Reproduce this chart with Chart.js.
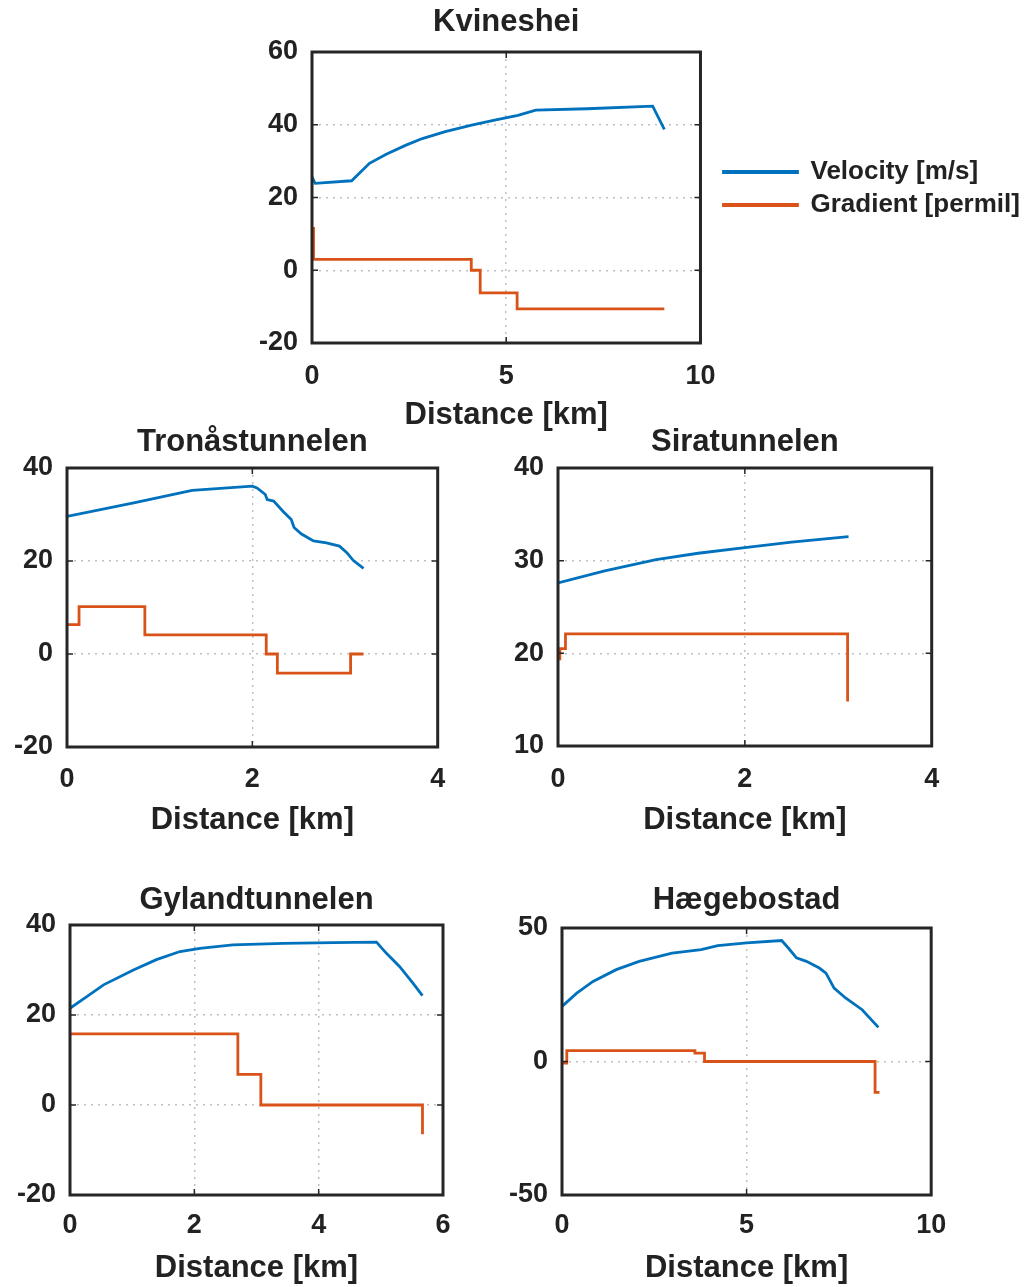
<!DOCTYPE html>
<html lang="en">
  <head>
    <meta charset="UTF-8" />
    <title>Velocity and gradient profiles</title>
    <script src="https://cdn.jsdelivr.net/npm/chart.js@4.4.0/dist/chart.umd.min.js"></script>
    <style>
      body {
        margin: 0;
        background: #fff;
      }
      #page {
        position: relative;
        width: 1031px;
        height: 1287px;
        overflow: hidden;
      }
      #page canvas {
        position: absolute;
      }
    </style>
  </head>
  <body>
    <div id="page"></div>
    <script>
      const seriesNames = ["Velocity [m/s]", "Gradient [permil]"];
      const xTitle = "Distance [km]";

      // [distance km, value]
      const kvinesheiVelocity = [
        [0, 25.7], [0.08, 23.9], [1.02, 24.6], [1.48, 29.4], [1.91, 31.9],
        [2.42, 34.4], [2.84, 36.2], [3.43, 38.1], [4.11, 39.9], [4.7, 41.3],
        [5.3, 42.6], [5.76, 44.0], [7.08, 44.4], [8.77, 45.1], [9.07, 38.7]
      ];
      const kvinesheiGradient = [
        [0, 11.5], [0.04, 3], [4.1, 0], [4.33, -6.2], [5.28, -10.6], [9.07, -10.6]
      ];
      const kvinesheiXTicks = [0, 5, 10];
      const kvinesheiYTicks = [-20, 0, 20, 40, 60];

      const tronasVelocity = [
        [0, 29.6], [0.72, 32.5], [1.35, 35.2], [2.0, 36.1], [2.05, 35.7],
        [2.14, 34.3], [2.16, 33.2], [2.23, 32.9], [2.33, 30.7], [2.42, 28.9],
        [2.45, 27.2], [2.53, 25.8], [2.66, 24.3], [2.8, 23.9], [2.94, 23.2],
        [3.02, 21.8], [3.09, 20.1], [3.2, 18.4]
      ];
      const tronasGradient = [
        [0, 6.3], [0.13, 10.2], [0.84, 4.1], [2.15, 0], [2.27, -4.1], [3.06, 0], [3.2, 0]
      ];
      const tronasXTicks = [0, 2, 4];
      const tronasYTicks = [-20, 0, 20, 40];

      const siraVelocity = [
        [0, 27.6], [0.5, 28.9], [1.05, 30.1], [1.5, 30.8], [2.0, 31.4], [2.5, 32.0], [3.11, 32.6]
      ];
      const siraGradient = [[0, 19.4], [0.02, 20.5], [0.08, 22.1], [3.1, 14.8]];
      const siraXTicks = [0, 2, 4];
      const siraYTicks = [10, 20, 30, 40];

      const gylandVelocity = [
        [0, 21.5], [0.27, 24.1], [0.54, 26.7], [1.02, 30.0], [1.39, 32.3],
        [1.77, 34.1], [2.09, 34.8], [2.62, 35.6], [3.43, 35.9], [4.23, 36.1],
        [4.93, 36.2], [5.09, 33.7], [5.3, 30.8], [5.51, 27.2], [5.67, 24.3]
      ];
      const gylandGradient = [[0, 15.8], [2.7, 6.8], [3.07, 0], [5.67, -6.5]];
      const gylandXTicks = [0, 2, 4, 6];
      const gylandYTicks = [-20, 0, 20, 40];

      const haegebostadVelocity = [
        [0, 20.6], [0.4, 25.6], [0.84, 30], [1.47, 34.4], [2.09, 37.5],
        [2.98, 40.6], [3.77, 41.9], [4.22, 43.4], [5.0, 44.4], [5.95, 45.3],
        [6.13, 42.5], [6.35, 38.8], [6.62, 37.5], [6.97, 35], [7.15, 33.1],
        [7.37, 27.5], [7.68, 23.8], [8.13, 19.4], [8.57, 12.8]
      ];
      const haegebostadGradient = [
        [0, -0.6], [0.13, 4.1], [3.6, 3.1], [3.86, 0], [8.48, -11.6], [8.6, -11.6]
      ];
      const haegebostadXTicks = [0, 5, 10];
      const haegebostadYTicks = [-50, 0, 50];

      const tunnels = [
        { title: "Kvineshei", velocity: kvinesheiVelocity, gradient: kvinesheiGradient,
          xTicks: kvinesheiXTicks, yTicks: kvinesheiYTicks, legend: true },
        { title: "Tronåstunnelen", velocity: tronasVelocity, gradient: tronasGradient,
          xTicks: tronasXTicks, yTicks: tronasYTicks },
        { title: "Siratunnelen", velocity: siraVelocity, gradient: siraGradient,
          xTicks: siraXTicks, yTicks: siraYTicks },
        { title: "Gylandtunnelen", velocity: gylandVelocity, gradient: gylandGradient,
          xTicks: gylandXTicks, yTicks: gylandYTicks },
        { title: "Hægebostad", velocity: haegebostadVelocity, gradient: haegebostadGradient,
          xTicks: haegebostadXTicks, yTicks: haegebostadYTicks }
      ];

      // where each plot box sits on the page
      const boxes = [
        { left: 312, right: 705, top: 52, bottom: 343, titleY: 22, tickY: 377, xTitleY: 415 },
        { left: 67, right: 438, top: 468, bottom: 747, titleY: 442, tickY: 780, xTitleY: 820 },
        { left: 558, right: 933, top: 468, bottom: 746, titleY: 442, tickY: 780, xTitleY: 820 },
        { left: 70, right: 443, top: 925, bottom: 1195, titleY: 900, tickY: 1226, xTitleY: 1268 },
        { left: 562, right: 937, top: 928, bottom: 1195, titleY: 900, tickY: 1226, xTitleY: 1268 }
      ];

      const FAMILY = '"Liberation Sans", Arial, Helvetica, sans-serif';
      const TEXT = "#222";
      const BLUE = "#0072BD";
      const ORANGE = "#D95319";
      const titleSize = 31;
      const tickSize = 27;
      const legendSize = 26;
      const yAxisWidth = 62;

      Chart.defaults.font.family = FAMILY;
      Chart.defaults.color = TEXT;

      // MATLAB style box with inward ticks
      const frame = {
        id: "frame",
        afterDatasetsDraw(chart) {
          const { ctx, chartArea: a, scales } = chart;
          ctx.save();
          ctx.strokeStyle = "#262626";
          ctx.lineWidth = 3;
          ctx.strokeRect(a.left, a.top, a.right - a.left, a.bottom - a.top);
          ctx.lineWidth = 1.5;
          ctx.beginPath();
          scales.x.ticks.forEach(t => {
            const px = scales.x.getPixelForValue(t.value);
            ctx.moveTo(px, a.bottom); ctx.lineTo(px, a.bottom - 6);
            ctx.moveTo(px, a.top); ctx.lineTo(px, a.top + 6);
          });
          scales.y.ticks.forEach(t => {
            const py = scales.y.getPixelForValue(t.value);
            ctx.moveTo(a.left, py); ctx.lineTo(a.left + 6, py);
            ctx.moveTo(a.right, py); ctx.lineTo(a.right - 6, py);
          });
          ctx.stroke();
          ctx.restore();
        }
      };

      // legend sits a little above centre and away from the axes box
      const legendShift = { x: 16, y: -9 };
      const legendNudge = {
        id: "legendNudge",
        afterLayout(chart) {
          const lg = chart.legend;
          if (!lg || !lg.options.display) return;
          lg.left += legendShift.x; lg.right += legendShift.x;
          lg.top += legendShift.y; lg.bottom += legendShift.y;
        }
      };

      const measure = document.createElement("canvas").getContext("2d");
      measure.font = "bold " + legendSize + "px " + FAMILY;
      const legendTextWidth = Math.max(...seriesNames.map(s => measure.measureText(s).width));
      const legendBoxWidth = 74;
      const legendPadding = 7;

      function toPoints(pairs) {
        return pairs.map(([x, y]) => ({ x: x, y: y }));
      }

      const page = document.getElementById("page");

      tunnels.forEach((t, i) => {
        const b = boxes[i];
        const half = titleSize * 1.2 / 2;
        const tickHalf = tickSize * 1.2 / 2;
        const top = Math.floor(b.titleY - half - 4);
        const left = b.left - yAxisWidth;
        const plotW = b.right - b.left;
        const xAxisHeight = b.xTitleY - b.bottom + half + 4;
        const height = Math.ceil(b.bottom + xAxisHeight - top);
        const legendW = legendPadding + legendBoxWidth + legendSize / 2 + legendTextWidth;
        let width, padRight;
        if (t.legend) {
          width = 1031 - left;
          padRight = width - yAxisWidth - plotW - legendW;
        } else {
          padRight = 24;
          width = yAxisWidth + plotW + padRight;
        }

        const canvas = document.createElement("canvas");
        canvas.width = width;
        canvas.height = height;
        canvas.style.left = left + "px";
        canvas.style.top = top + "px";
        page.appendChild(canvas);

        const xs = t.xTicks, ys = t.yTicks;

        new Chart(canvas.getContext("2d"), {
          type: "line",
          data: {
            datasets: [
              {
                label: seriesNames[0],
                data: toPoints(t.velocity),
                borderColor: BLUE,
                backgroundColor: BLUE,
                borderWidth: 2.8,
                pointRadius: 0
              },
              {
                label: seriesNames[1],
                data: toPoints(t.gradient),
                borderColor: ORANGE,
                backgroundColor: ORANGE,
                borderWidth: 2.8,
                pointRadius: 0,
                stepped: true
              }
            ]
          },
          options: {
            responsive: false,
            animation: false,
            layout: {
              padding: { left: 0, top: 0, right: padRight, bottom: height - (b.bottom + xAxisHeight - top) }
            },
            plugins: {
              tooltip: { enabled: false },
              title: {
                display: true,
                text: t.title,
                fullSize: false,
                color: TEXT,
                font: { size: titleSize, weight: "bold" },
                padding: { top: b.titleY - top - half, bottom: b.top - b.titleY - half }
              },
              legend: {
                display: !!t.legend,
                position: "right",
                align: "center",
                fullSize: false,
                maxWidth: Math.ceil(legendW) + 4,
                labels: {
                  boxWidth: legendBoxWidth,
                  boxHeight: 1,
                  padding: legendPadding,
                  color: TEXT,
                  font: { size: legendSize, weight: "bold" }
                }
              }
            },
            scales: {
              x: {
                type: "linear",
                min: xs[0],
                max: xs[xs.length - 1],
                ticks: {
                  stepSize: xs[1] - xs[0],
                  padding: b.tickY - b.bottom - tickHalf,
                  color: TEXT,
                  font: { size: tickSize, weight: "bold" }
                },
                grid: { color: "rgba(0,0,0,0.25)", lineWidth: 1.5, drawTicks: false },
                border: { display: false, dash: [2, 5] },
                title: {
                  display: true,
                  text: xTitle,
                  color: TEXT,
                  font: { size: titleSize, weight: "bold" },
                  padding: { top: 0, bottom: 4 }
                },
                afterFit(scale) {
                  scale.height = xAxisHeight;
                }
              },
              y: {
                min: ys[0],
                max: ys[ys.length - 1],
                ticks: {
                  stepSize: ys[1] - ys[0],
                  padding: 14,
                  color: TEXT,
                  font: { size: tickSize, weight: "bold" }
                },
                grid: { color: "rgba(0,0,0,0.25)", lineWidth: 1.5, drawTicks: false },
                border: { display: false, dash: [2, 5] },
                afterFit(scale) {
                  scale.width = yAxisWidth;
                }
              }
            }
          },
          plugins: [frame, legendNudge]
        });
      });
    </script>
  </body>
</html>
